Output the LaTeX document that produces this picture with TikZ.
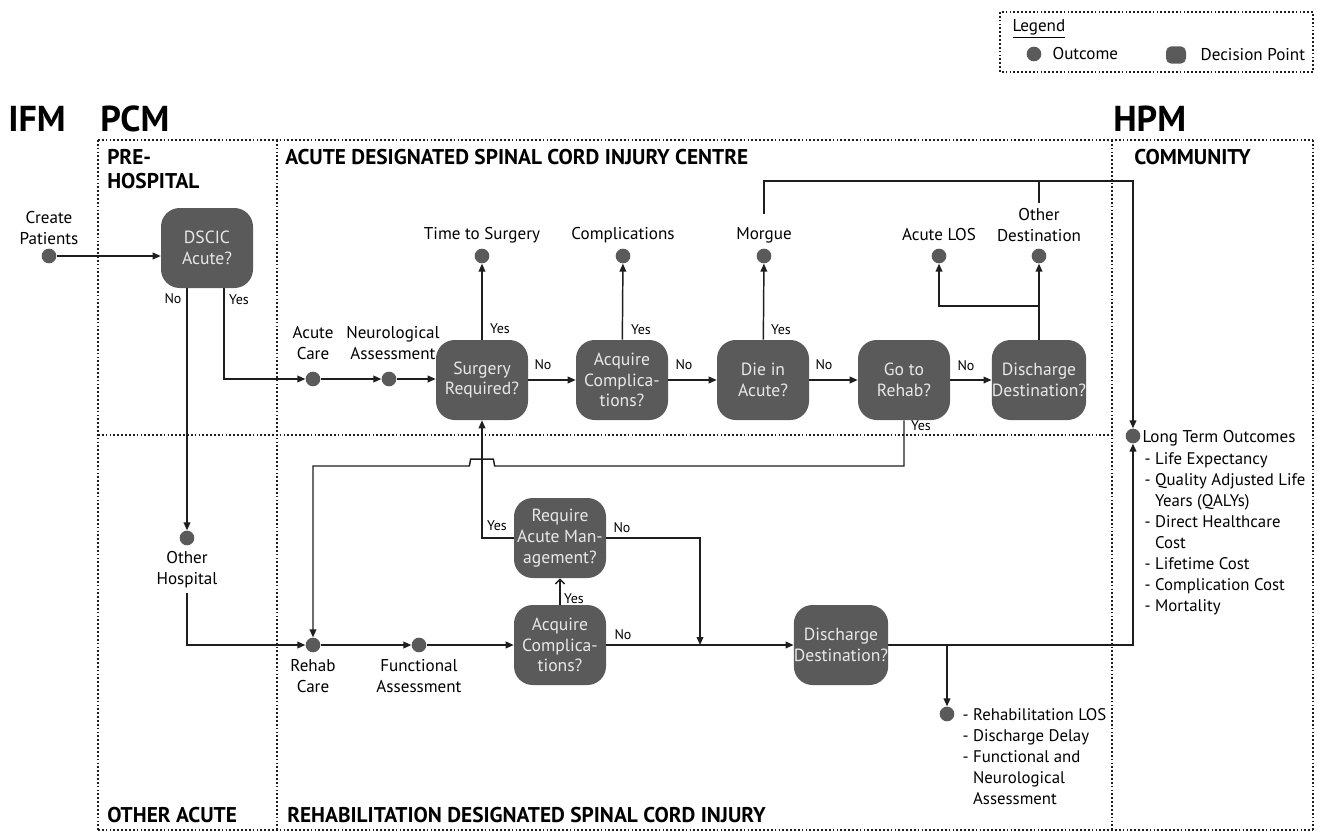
\documentclass[tikz,border=0pt]{standalone}
\usepackage{fontspec}
\setmainfont{PT Sans}
\usetikzlibrary{arrows.meta,calc}
\definecolor{boxgray}{HTML}{5A5A5A}
\definecolor{boxtext}{HTML}{E8E8E8}
\definecolor{linecol}{HTML}{1E1E1E}
\newcommand\bodyfs{\fontsize{12.8}{15.75}\selectfont}
\newcommand\boxfs{\fontsize{13.2}{15.6}\selectfont}
\newcommand\listfs{\fontsize{12.6}{15.75}\selectfont}
\newcommand\smallfs{\fontsize{10.5}{12}\selectfont}
\newcommand\headfs{\fontsize{16}{18}\selectfont\bfseries}
\newcommand\bigfs{\fontsize{27}{30}\selectfont\bfseries}
\begin{document}
\begin{tikzpicture}[x=0.75pt,y=-0.75pt,
  dec/.style={rectangle, rounded corners=14pt, fill=boxgray, text=boxtext,
    minimum width=69pt, minimum height=60pt, align=center, inner sep=0pt, font=\boxfs},
  outc/.style={circle, fill=boxgray, minimum size=11pt, inner sep=0pt},
  legdec/.style={rectangle, rounded corners=4pt, fill=boxgray, minimum width=15pt, minimum height=13pt, inner sep=0pt},
  lbl/.style={align=center, font=\bodyfs, inner sep=1pt, text=black},
  yn/.style={font=\smallfs, inner sep=1pt, text=black},
  head/.style={font=\headfs, anchor=west, inner sep=0pt},
  big/.style={font=\bigfs, anchor=west, inner sep=0pt},
  ln/.style={draw=linecol, line width=1.1pt},
  arr/.style={ln, -{Triangle[length=6pt,width=5pt]}},
  openarr/.style={ln, -{Straight Barb[length=3.5pt,width=7pt]}},
  frame/.style={draw=linecol, line width=1.3pt, dash pattern=on 1.3pt off 1.6pt}
]
\useasboundingbox (0,0) rectangle (1318,832);

% frames
\draw[frame] (98,140) -- (1313,140);
\draw[frame] (98,830) -- (1313,830);
\draw[frame] (98,140) -- (98,830);
\draw[frame] (277,140) -- (277,830);
\draw[frame] (1112,140) -- (1112,830);
\draw[frame] (1313,140) -- (1313,830);
\draw[frame] (98,435) -- (1112,435);

% legend
\draw[frame] (1000,12) rectangle (1313,72);
\node[lbl, anchor=west] (leg) at (1011,29) {\underline{Legend}};
\node[outc] (legc) at (1034,54) {};
\node[lbl, anchor=west] (lego) at (1051,54) {Outcome};
\node[legdec] (legd) at (1176,55) {};
\node[lbl, anchor=west] (legdt) at (1199,55) {Decision Point};

% headings
\node[big] (ifm) at (8,119) {IFM};
\node[big] (pcm) at (100,119) {PCM};
\node[big] (hpm) at (1113,119) {HPM};
\node[head] (pre1) at (107,157) {PRE-};
\node[head] (pre2) at (107,181) {HOSPITAL};
\node[head] (acuteh) at (285,157) {ACUTE DESIGNATED SPINAL CORD INJURY CENTRE};
\node[head] (commh) at (1134,157) {COMMUNITY};
\node[head] (otherh) at (107,815) {OTHER ACUTE};
\node[head] (rehabh) at (287,815) {REHABILITATION DESIGNATED SPINAL CORD INJURY};

% pre-hospital
\node[outc] (cp) at (49,256) {};
\node[lbl] (cpl) at (49,228) {Create\\Patients};
\node[dec] (dscic) at (207,248) {DSCIC\\Acute?};
\node[outc] (oh) at (187,538) {};
\node[lbl] (ohl) at (187,570) {Other\\Hospital};

% acute row
\node[outc] (ac) at (313,379) {};
\node[lbl] (acl) at (313,343) {Acute\\Care};
\node[outc] (na) at (389,379) {};
\node[lbl] (nal) at (393,343) {Neurological\\Assessment};
\node[dec] (surg) at (482,380) {Surgery\\Required?};
\node[dec] (acq) at (622,380) {Acquire\\Complica-\\tions?};
\node[dec] (die) at (763,380) {Die in\\Acute?};
\node[dec] (gtr) at (904,380) {Go to\\Rehab?};
\node[dec] (dda) at (1039,380) {Discharge\\Destination?};

\node[outc] (tts) at (482,256) {};
\node[lbl] (ttsl) at (482,235) {Time to Surgery};
\node[outc] (comp) at (623,256) {};
\node[lbl] (compl) at (623,235) {Complications};
\node[outc] (morg) at (764,256) {};
\node[lbl] (morgl) at (764,235) {Morgue};
\node[outc] (alos) at (939,256) {};
\node[lbl] (alosl) at (939,235) {Acute LOS};
\node[outc] (odest) at (1039,256) {};
\node[lbl] (odestl) at (1039,225) {Other\\Destination};

% long term outcomes
\node[outc] (lto) at (1133,436) {};
\node[lbl, anchor=west] (ltol) at (1141,438) {Long Term Outcomes};
\node[lbl, anchor=west, align=left, font=\listfs] (ltolist) at (1143,534) {- Life Expectancy\\- Quality Adjusted Life\\\phantom{- }Years (QALYs)\\- Direct Healthcare\\\phantom{- }Cost\\- Lifetime Cost\\- Complication Cost\\- Mortality};

% rehab row
\node[outc] (rc) at (313,645) {};
\node[lbl] (rcl) at (313,676) {Rehab\\Care};
\node[outc] (fa) at (419,645) {};
\node[lbl] (fal) at (419,676) {Functional\\Assessment};
\node[dec] (acqr) at (560,645) {Acquire\\Complica-\\tions?};
\node[dec] (reqa) at (560,538) {Require\\Acute Man-\\agement?};
\node[dec] (ddr) at (841,645) {Discharge\\Destination?};
\node[outc] (rlos) at (947,714) {};
\node[lbl, anchor=west, align=left, font=\listfs] (rlosl) at (961,757) {- Rehabilitation LOS\\- Discharge Delay\\- Functional and\\\phantom{- }Neurological\\\phantom{- }Assessment};

% coordinates
\coordinate (yx) at (224,300);
\coordinate (mtop) at (764,214);
\coordinate (otop) at (1039,203);
\coordinate (tr) at (1133,181);
\coordinate (br) at (1039,306);
\coordinate (jmp) at (482,466);
\coordinate (ohb) at (187,593);
\coordinate (nojoin) at (700,645);
\coordinate (rb) at (947,645);

% connectors pre-hospital
\draw[arr] (cp) -- (cp -| dscic.west);
\draw[arr] (dscic.south -| oh) -- (oh);
\draw[arr] (dscic.south -| yx) |- (ac);
\node[yn] (no1) at (173,299) {No};
\node[yn] (yes1) at (239,300) {Yes};

% acute row
\draw[arr] (ac) -- (na);
\draw[arr] (na) -- (na -| surg.west);
\draw[arr] (surg) -- (acq);
\draw[arr] (acq) -- (die);
\draw[arr] (die) -- (gtr);
\draw[arr] (gtr) -- (dda);
\node[yn] (no2) at (543,365) {No};
\node[yn] (no3) at (684,365) {No};
\node[yn] (no4) at (824,365) {No};
\node[yn] (no5) at (966,366) {No};
\draw[arr] (surg) -- (tts);
\draw[arr] (acq) -- (comp);
\draw[arr] (die) -- (morg);
\node[yn] (yes2) at (500,329) {Yes};
\node[yn] (yes3) at (641,330) {Yes};
\node[yn] (yes4) at (781,330) {Yes};
\draw[arr] (dda) -- (odest);
\draw[arr] (br) -| (alos);
\draw[arr] (mtop) |- (tr) -- (lto);
\draw[ln] (otop) -- (otop |- tr);

% go to rehab -> rehab care
\draw[arr] (gtr.south) -- (gtr.south |- jmp) -- ([xshift=9.5pt]jmp) -- ([xshift=8.5pt,yshift=5.2pt]jmp)
  -- ([xshift=-8.5pt,yshift=5.2pt]jmp) -- ([xshift=-9.5pt]jmp) -- (jmp -| rc) -- (rc);
\node[yn] (yes5) at (921,426) {Yes};

% rehab row
\draw[arr] (ohb) |- (rc);
\draw[arr] (rc) -- (fa);
\draw[arr] (fa) -- (acqr);
\draw[openarr] (acqr) -- (reqa);
\node[yn] (yes6) at (574,599) {Yes};
\draw[arr] (reqa.west) -| (surg.south);
\node[yn] (yes7) at (497,526) {Yes};
\draw[arr] (reqa.east) -| (nojoin);
\node[yn] (no6) at (622,528) {No};
\draw[arr] (acqr) -- (ddr);
\node[yn] (no7) at (623,635) {No};
\draw[arr] (ddr.east) -| (lto);
\draw[arr] (rb) -- (rlos);
\end{tikzpicture}
\end{document}
